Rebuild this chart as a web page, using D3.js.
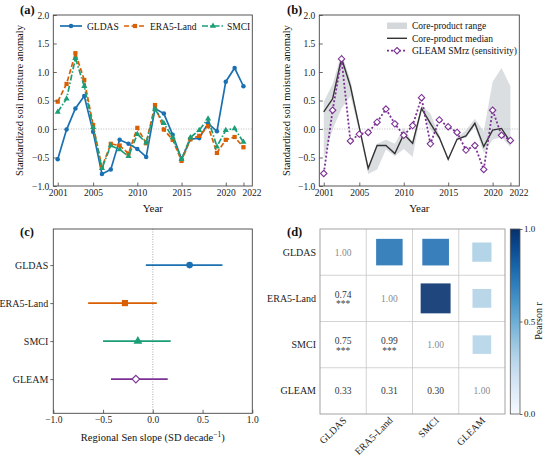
<!DOCTYPE html>
<html>
<head>
<meta charset="UTF-8">
<title>Soil moisture anomalies</title>
<script src="https://cdn.jsdelivr.net/npm/d3@7"></script>
<style>
	body { margin: 0; background: #fff; }
	svg text { font-family: 'Liberation Serif', 'Times New Roman', 'DejaVu Serif', serif; }
</style>
</head>
<body>
	<div id="chart"></div>
	<script type="text/javascript">
		// ---- data ----
		var years = [2001, 2002, 2003, 2004, 2005, 2006, 2007, 2008, 2009, 2010, 2011,
			2012, 2013, 2014, 2015, 2016, 2017, 2018, 2019, 2020, 2021, 2022];
		var gldas = [-0.53, -0.01, 0.36, 0.58, -0.05, -0.79, -0.71, -0.19, -0.26, -0.35, -0.49,
			0.36, 0.27, -0.10, -0.53, -0.18, -0.16, 0.10, -0.04, 0.83, 1.07, 0.75];
		var era5 = [0.48, 0.79, 1.33, 0.86, 0.07, -0.67, -0.26, -0.29, -0.43, 0.02, -0.25,
			0.42, -0.01, -0.19, -0.56, -0.18, -0.12, 0.05, -0.42, -0.19, -0.14, -0.32];
		var smci = [0.30, 0.53, 1.24, 0.75, 0.03, -0.69, -0.29, -0.36, -0.48, -0.09, -0.24,
			0.35, 0.10, -0.15, -0.53, -0.15, -0.02, 0.18, -0.31, -0.02, 0.01, -0.23];
		var gleam = [-0.78, 0.33, 1.23, -0.21, -0.09, -0.06, 0.12, 0.35, 0.09, -0.11, 0.06,
			0.55, -0.26, 0.16, 0.04, -0.06, -0.37, -0.29, -0.71, 0.33, -0.11, -0.20];

		var products = ["GLDAS", "ERA5-Land", "SMCI", "GLEAM"];
		var senSlope = [0.37, -0.28, -0.15, -0.17];
		var senLow = [-0.07, -0.65, -0.50, -0.42];
		var senHigh = [0.70, 0.04, 0.18, 0.15];

		var corr = [
			[1.00, 0.74, 0.75, 0.33],
			[0.74, 1.00, 0.99, 0.31],
			[0.75, 0.99, 1.00, 0.30],
			[0.33, 0.31, 0.30, 1.00]
		];
		var stars = [
			["", "", "", ""],
			["***", "", "", ""],
			["***", "***", "", ""],
			["", "", "", ""]
		];

		var yearTicks = [2001, 2005, 2010, 2015, 2020, 2022];
		var anomTicks = [-1.0, -0.5, 0.0, 0.5, 1.0, 1.5, 2.0];
		var slopeTicks = [-1.0, -0.5, 0.0, 0.5, 1.0];
		var cbarTicks = [0.0, 0.5, 1.0];

		// ---- setup ----
		var serif = "'Liberation Serif', 'Times New Roman', 'DejaVu Serif', serif";
		var c_gldas = "#1a70b0", c_era5 = "#d95f02", c_smci = "#1b9e77", c_gleam = "#7b3294";
		var fmt1 = d3.format(".1f");

		var svg = d3.select("#chart").append("svg").attr("width", 550).attr("height", 458)
			.style("font-family", serif);

		var frame = function(x0, y0, x1, y1) {
			svg.append("rect").attr("x", x0).attr("y", y0).attr("width", x1 - x0).attr("height", y1 - y0)
				.attr("fill", "none").attr("stroke", "#444").attr("stroke-width", 0.9);
		};
		var styleAxis = function(g, size) {
			g.select(".domain").remove();
			g.attr("font-family", serif);
			g.selectAll("text").style("font-family", serif).attr("font-size", size || 9.5).attr("fill", "#222");
			g.selectAll("line").attr("stroke", "#444").attr("stroke-width", 0.8);
			return g;
		};
		var label = function(x, y, txt, size, rot, bold) {
			var t = svg.append("text").attr("x", x).attr("y", y).attr("font-size", size)
				.attr("fill", "#111").text(txt);
			if (rot) t.attr("text-anchor", "middle").attr("transform", "rotate(" + rot + "," + x + "," + y + ")");
			if (bold) t.attr("font-weight", "bold");
			return t;
		};
		var diamond = function(s) {
			return "M0," + (-s) + "L" + s + ",0L0," + s + "L" + (-s) + ",0Z";
		};
		// last year label sits at the right edge of the frame, as in the figure
		var nudgeLast = function(g) {
			g.selectAll(".tick").filter(function(d) { return d === 2022; }).select("text").attr("dx", 8);
		};

		// ---- panel (a) ----
		var xa = d3.scaleLinear().domain([2000.5, 2023]).range([53.3, 252.3]);
		var ya = d3.scaleLinear().domain([-1, 2]).range([186, 15]);

		svg.append("line").attr("x1", 53.3).attr("x2", 252.3).attr("y1", ya(0)).attr("y2", ya(0))
			.attr("stroke", "#aaa").attr("stroke-width", 0.8).attr("stroke-dasharray", "1,1.5");

		var seriesA = [
			{ name : "GLDAS", values : gldas, color : c_gldas, dash : null, sym : d3.symbolCircle, size : 16 },
			{ name : "ERA5-Land", values : era5, color : c_era5, dash : "5,2.5", sym : d3.symbolSquare, size : 18 },
			{ name : "SMCI", values : smci, color : c_smci, dash : "6,2,1.5,2", sym : d3.symbolTriangle, size : 16 }
		];

		seriesA.forEach(function(s) {
			svg.append("path").datum(s.values).attr("fill", "none").attr("stroke", s.color)
				.attr("stroke-width", 1.7).attr("stroke-dasharray", s.dash)
				.attr("d", d3.line().x(function(d, i) { return xa(years[i]); }).y(function(d) { return ya(d); }));
			svg.append("g").selectAll("path").data(s.values).enter().append("path")
				.attr("transform", function(d, i) { return "translate(" + xa(years[i]) + "," + ya(d) + ")"; })
				.attr("d", d3.symbol().type(s.sym).size(s.size)).attr("fill", s.color);
		});

		var legA = [[60, 87], [124, 150], [202, 227]];
		seriesA.forEach(function(s, i) {
			var lx = legA[i][0];
			svg.append("line").attr("x1", lx).attr("x2", lx + 22).attr("y1", 26).attr("y2", 26)
				.attr("stroke", s.color).attr("stroke-width", 1.7).attr("stroke-dasharray", s.dash);
			svg.append("path").attr("transform", "translate(" + (lx + 11) + ",26)")
				.attr("d", d3.symbol().type(s.sym).size(s.size)).attr("fill", s.color);
			label(legA[i][1], 29.5, s.name, 9.5);
		});

		nudgeLast(styleAxis(svg.append("g").attr("transform", "translate(0,186)")
			.call(d3.axisBottom(xa).tickValues(yearTicks).tickFormat(d3.format("d")).tickSizeInner(-3.5).tickSizeOuter(0).tickPadding(3))));
		styleAxis(svg.append("g").attr("transform", "translate(53.3,0)")
			.call(d3.axisLeft(ya).tickValues(anomTicks).tickFormat(fmt1).tickSizeInner(-3.5).tickSizeOuter(0).tickPadding(4)));
		frame(53.3, 15, 252.3, 186);
		label(152.8, 212, "Year", 11, 0).attr("text-anchor", "middle");
		label(23, 100.5, "Standardized soil moisture anomaly", 10.5, -90);
		label(20, 14, "(a)", 12.5, 0, true);

		// ---- panel (b) ----
		var xb = d3.scaleLinear().domain([2000.5, 2023]).range([319.3, 519.3]);
		var yb = d3.scaleLinear().domain([-1, 2]).range([186, 15]);

		var core = years.map(function(y, i) {
			var v = [gldas[i], era5[i], smci[i]];
			return { year : y, lo : d3.min(v), hi : d3.max(v), med : d3.median(v) };
		});

		svg.append("path").datum(core).attr("fill", "#d4d8db").attr("opacity", 0.85)
			.attr("d", d3.area().x(function(d) { return xb(d.year); })
				.y0(function(d) { return yb(d.lo); }).y1(function(d) { return yb(d.hi); }));
		svg.append("line").attr("x1", 319.3).attr("x2", 519.3).attr("y1", yb(0)).attr("y2", yb(0))
			.attr("stroke", "#aaa").attr("stroke-width", 0.8).attr("stroke-dasharray", "1,1.5");
		svg.append("path").datum(core).attr("fill", "none").attr("stroke", "#333").attr("stroke-width", 1.4)
			.attr("d", d3.line().x(function(d) { return xb(d.year); }).y(function(d) { return yb(d.med); }));
		svg.append("path").datum(gleam).attr("fill", "none").attr("stroke", c_gleam).attr("stroke-width", 1.8)
			.attr("stroke-dasharray", "2,2")
			.attr("d", d3.line().x(function(d, i) { return xb(years[i]); }).y(function(d) { return yb(d); }));
		svg.append("g").selectAll("path").data(gleam).enter().append("path")
			.attr("transform", function(d, i) { return "translate(" + xb(years[i]) + "," + yb(d) + ")"; })
			.attr("d", diamond(3.2)).attr("fill", "#fff").attr("stroke", c_gleam).attr("stroke-width", 1.1);

		svg.append("rect").attr("x", 387).attr("y", 22.5).attr("width", 20).attr("height", 6.5)
			.attr("fill", "#d4d8db");
		label(412, 29, "Core-product range", 9.5);
		svg.append("line").attr("x1", 387).attr("x2", 407).attr("y1", 38.3).attr("y2", 38.3)
			.attr("stroke", "#333").attr("stroke-width", 1.4);
		label(412, 41.6, "Core-product median", 9.5);
		svg.append("line").attr("x1", 387).attr("x2", 407).attr("y1", 50.7).attr("y2", 50.7)
			.attr("stroke", c_gleam).attr("stroke-width", 1.8).attr("stroke-dasharray", "2,2");
		svg.append("path").attr("transform", "translate(397,50.7)").attr("d", diamond(3.2))
			.attr("fill", "#fff").attr("stroke", c_gleam).attr("stroke-width", 1.1);
		label(412, 54, "GLEAM SMrz (sensitivity)", 9.5);

		nudgeLast(styleAxis(svg.append("g").attr("transform", "translate(0,186)")
			.call(d3.axisBottom(xb).tickValues(yearTicks).tickFormat(d3.format("d")).tickSizeInner(-3.5).tickSizeOuter(0).tickPadding(3))));
		styleAxis(svg.append("g").attr("transform", "translate(319.3,0)")
			.call(d3.axisLeft(yb).tickValues(anomTicks).tickFormat(fmt1).tickSizeInner(-3.5).tickSizeOuter(0).tickPadding(4)));
		frame(319.3, 15, 519.3, 186);
		label(419.3, 212, "Year", 11, 0).attr("text-anchor", "middle");
		label(290, 100.5, "Standardized soil moisture anomaly", 10.5, -90);
		label(287, 14, "(b)", 12.5, 0, true);

		// ---- panel (c) ----
		var xc = d3.scaleLinear().domain([-1, 1]).range([53.3, 252.3]);
		var yc = d3.scaleLinear().domain([-0.95, 3.9]).range([229, 413.3]);
		var cColors = [c_gldas, c_era5, c_smci, c_gleam];

		svg.append("line").attr("x1", xc(0)).attr("x2", xc(0)).attr("y1", 229).attr("y2", 413.3)
			.attr("stroke", "#999").attr("stroke-width", 0.8).attr("stroke-dasharray", "1,1.5");

		products.forEach(function(p, i) {
			svg.append("line").attr("x1", xc(senLow[i])).attr("x2", xc(senHigh[i]))
				.attr("y1", yc(i)).attr("y2", yc(i)).attr("stroke", cColors[i]).attr("stroke-width", 1.8);
		});
		var mk = svg.append("g");
		mk.append("circle").attr("cx", xc(senSlope[0])).attr("cy", yc(0)).attr("r", 3.3).attr("fill", c_gldas);
		mk.append("path").attr("transform", "translate(" + xc(senSlope[1]) + "," + yc(1) + ")")
			.attr("d", d3.symbol().type(d3.symbolSquare).size(38)).attr("fill", c_era5);
		mk.append("path").attr("transform", "translate(" + xc(senSlope[2]) + "," + yc(2) + ")")
			.attr("d", d3.symbol().type(d3.symbolTriangle).size(34)).attr("fill", c_smci);
		mk.append("path").attr("transform", "translate(" + xc(senSlope[3]) + "," + yc(3) + ")")
			.attr("d", diamond(3.8)).attr("fill", "#fff").attr("stroke", c_gleam).attr("stroke-width", 1.2);

		styleAxis(svg.append("g").attr("transform", "translate(0,413.3)")
			.call(d3.axisBottom(xc).tickValues(slopeTicks).tickFormat(fmt1).tickSizeInner(-3.5).tickSizeOuter(0).tickPadding(3)));
		styleAxis(svg.append("g").attr("transform", "translate(53.3,0)")
			.call(d3.axisLeft(yc).tickValues([0, 1, 2, 3]).tickFormat(function(d) { return products[d]; })
				.tickSizeInner(3).tickSizeOuter(0).tickPadding(2)), 10);
		frame(53.3, 229, 252.3, 413.3);
		var xl = label(152.8, 441, "", 10.5, 0).attr("text-anchor", "middle");
		xl.append("tspan").text("Regional Sen slope (SD decade");
		xl.append("tspan").attr("dy", -4).attr("font-size", 7.5).text("\u22121");
		xl.append("tspan").attr("dy", 4).text(")");
		label(20, 236, "(c)", 12.5, 0, true);

		// ---- panel (d) ----
		var xd = d3.scaleBand().domain(products).range([320, 505]);
		var yd = d3.scaleBand().domain(products).range([229, 414]);
		var bw = xd.bandwidth();
		var side = d3.scalePow().exponent(0.5).domain([0, 1]).range([0.1 * bw, 0.65 * bw]);

		// grid
		var grid = svg.append("g").attr("stroke", "#c8c8c8").attr("stroke-width", 0.8);
		products.slice(1).forEach(function(p) {
			grid.append("line").attr("x1", xd(p)).attr("x2", xd(p)).attr("y1", 229).attr("y2", 414);
			grid.append("line").attr("x1", 320).attr("x2", 505).attr("y1", yd(p)).attr("y2", yd(p));
		});

		corr.forEach(function(row, i) {
			row.forEach(function(r, j) {
				var cx = xd(products[j]) + bw / 2, cy = yd(products[i]) + bw / 2;
				if (j > i) {
					var s = side(Math.abs(r));
					svg.append("rect").attr("x", cx - s / 2).attr("y", cy - s / 2).attr("width", s).attr("height", s)
						.attr("fill", d3.interpolateBlues(r)).attr("opacity", 0.9);
				} else if (i === j) {
					svg.append("text").attr("x", cx).attr("y", cy + 3.5).attr("text-anchor", "middle")
						.attr("font-size", 9.5).attr("fill", "#8a8a8a").text(d3.format(".2f")(r));
				} else {
					var st = stars[i][j];
					svg.append("text").attr("x", cx).attr("y", st ? cy - 0.5 : cy + 3.5).attr("text-anchor", "middle")
						.attr("font-size", 9.5).attr("fill", "#333").text(d3.format(".2f")(r));
					if (st) {
						svg.append("text").attr("x", cx).attr("y", cy + 9).attr("text-anchor", "middle")
							.attr("font-size", 9.5).attr("fill", "#444").text(st);
					}
				}
			});
		});
		svg.append("rect").attr("x", 320).attr("y", 229).attr("width", 185).attr("height", 185)
			.attr("fill", "none").attr("stroke", "#999").attr("stroke-width", 0.9);

		products.forEach(function(p) {
			svg.append("text").attr("x", 316).attr("y", yd(p) + bw / 2 + 3.5).attr("text-anchor", "end")
				.attr("font-size", 10).attr("fill", "#222").text(p);
			var tx = xd(p) + bw / 2 + 4, ty = 421;
			svg.append("text").attr("x", tx).attr("y", ty).attr("text-anchor", "end")
				.attr("font-size", 10).attr("fill", "#222")
				.attr("transform", "rotate(-45," + tx + "," + ty + ")").text(p);
		});

		// colorbar
		var grad = svg.append("defs").append("linearGradient").attr("id", "blues")
			.attr("x1", 0).attr("y1", 1).attr("x2", 0).attr("y2", 0);
		d3.range(0, 1.001, 0.1).forEach(function(t) {
			grad.append("stop").attr("offset", t).attr("stop-color", d3.interpolateBlues(t));
		});
		var yBar = d3.scaleLinear().domain([0, 1]).range([414, 229]);
		svg.append("rect").attr("x", 510.3).attr("y", 229).attr("width", 9.7).attr("height", 185)
			.attr("fill", "url(#blues)").attr("stroke", "#555").attr("stroke-width", 0.8);
		styleAxis(svg.append("g").attr("transform", "translate(520,0)")
			.call(d3.axisRight(yBar).tickValues(cbarTicks).tickFormat(fmt1).tickSizeInner(2.5).tickSizeOuter(0).tickPadding(1.5)), 9);
		label(541.5, 321, "Pearson r", 10, -90);
		label(287, 236, "(d)", 12.5, 0, true);
	</script>
</body>
</html>
